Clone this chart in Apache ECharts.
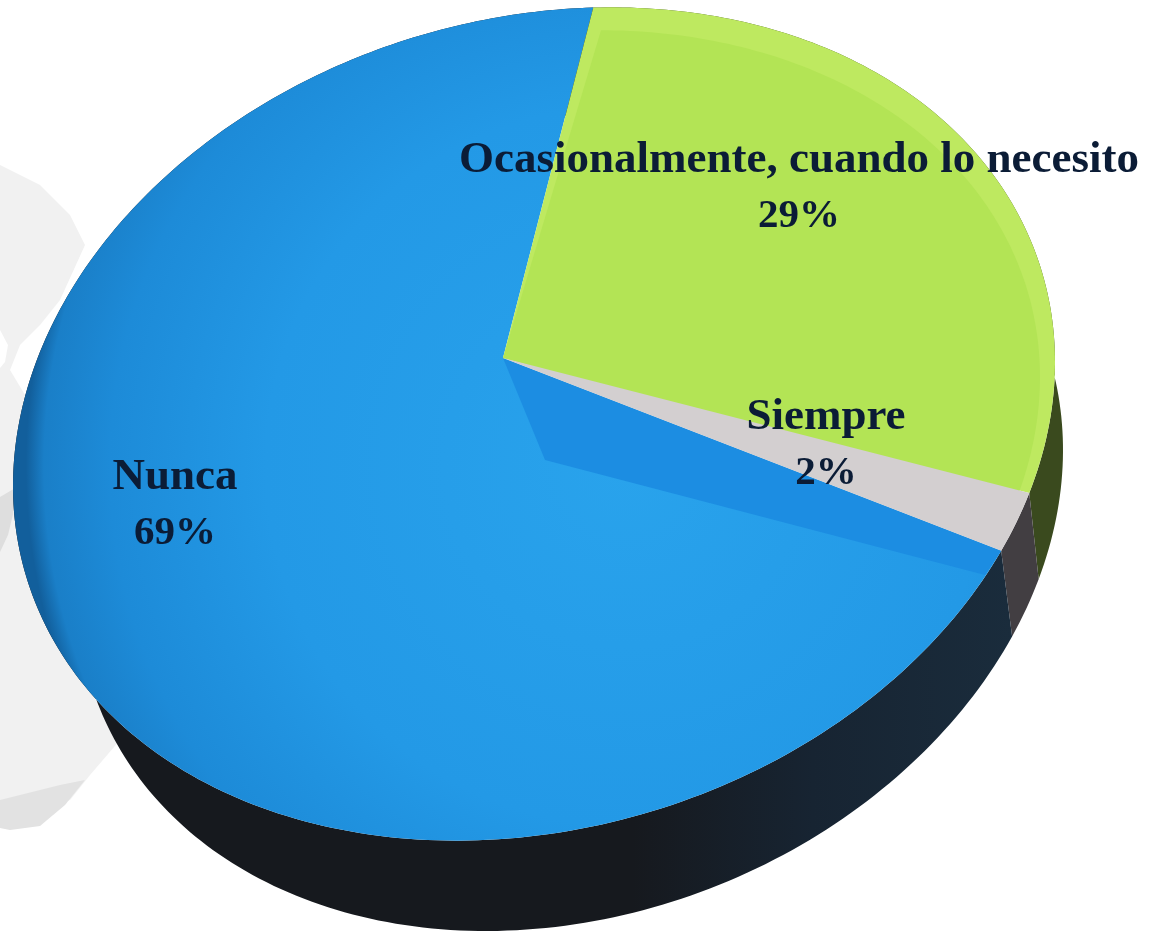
<!DOCTYPE html>
<html><head><meta charset="utf-8">
<style>html,body{margin:0;padding:0;background:#fff}#c{width:1163px;height:932px}</style>
<script src="https://cdn.jsdelivr.net/npm/echarts@6/dist/echarts.min.js"></script>
</head><body><div id="c"></div>
<script>
// Data
var categories = ['Ocasionalmente, cuando lo necesito', 'Siempre', 'Nunca'];
var values = [29, 2, 69];
var topColors = ['#bee960', '#d3cfd0', '#1c8ddf'];
var innerColors = ['#b3e455', '#d3cfd0', '#27a0ea'];
var wallColors = ['#3a4a1e', '#423e42', '#16191e'];
// Presentation geometry of the tilted disc
var START = 0.2, APEX = [503, 358];
var TOP = {cx: 534, cy: 424, rx: 521, c: -62, d: 412};
var INNER = {cx: 530, cy: 432, rx: 510, c: -55, d: 398};
var BOTTOM = {cx: 570, cy: 520, rx: 493, c: -70, d: 405};
var INNER_APEX = [545, 460];
var LABEL_POS = [[799, 188], [826, 445], [175, 505]];

function inv(E, p) {
  var x = (p[0] - E.cx) / E.rx;
  return [x, (p[1] - E.cy - E.c * x) / E.d];
}
var A = inv(TOP, APEX), AA = A[0]*A[0] + A[1]*A[1], S = Math.sqrt(1 - AA);
function warp(th) {
  var p = [Math.sin(th), -Math.cos(th)], dt = p[0]*A[0] + p[1]*A[1], k = dt / AA;
  var par = [k*A[0], k*A[1]], perp = [p[0]-par[0], p[1]-par[1]], den = 1 + dt;
  return [(A[0]+par[0]+S*perp[0])/den, (A[1]+par[1]+S*perp[1])/den];
}
function onE(E, th) {
  var q = warp(th);
  return [E.cx + E.rx*q[0], E.cy + E.c*q[0] + E.d*q[1]];
}
var total = values.reduce(function (a, b) { return a + b; }, 0);
var angles = [], acc = START;
values.forEach(function (v) {
  var a0 = acc; acc += v / total * Math.PI * 2; angles.push([a0, acc]);
});
function arc(E, a0, a1) {
  var out = [], n = Math.max(6, Math.ceil((a1 - a0) * 60));
  for (var i = 0; i <= n; i++) out.push(onE(E, a0 + (a1 - a0) * i / n));
  return out;
}
function blueFill() {
  return {type: 'radial', x: 0.62, y: 0.55, r: 0.72, colorStops: [
    {offset: 0, color: '#29a3ec'}, {offset: 0.6, color: '#2399e6'},
    {offset: 0.86, color: '#1d8bd8'}, {offset: 0.97, color: '#1a7fc8'}, {offset: 1, color: '#125f9c'}]};
}
function wall(params, api) {
  var i = params.dataIndex, a = angles[i];
  var pts = arc(TOP, a[0], a[1]).concat(arc(BOTTOM, a[0], a[1]).reverse());
  var fill = i === 2 ? {type: 'linear', x: 0, y: 0, x2: 1, y2: 0, colorStops: [
    {offset: 0, color: '#16191e'}, {offset: 0.62, color: '#16191e'}, {offset: 0.8, color: '#172432'}, {offset: 1, color: '#1a2c3c'}]} : wallColors[i];
  return {type: 'polygon', shape: {points: pts}, style: {fill: fill}};
}
function face(params, api) {
  var i = params.dataIndex, a = angles[i];
  var kids = [{type: 'polygon', shape: {points: [APEX].concat(arc(TOP, a[0], a[1]))},
    style: {fill: i === 2 ? blueFill() : topColors[i]}}];
  if (i === 2) {
    kids.push({type: 'polygon', shape: {points: [APEX, onE(TOP, a[0]), [985, 575], INNER_APEX]},
      style: {fill: '#1c8de2'}});
  }
  if (i === 0) {
    kids.push({type: 'polygon', shape: {points: [APEX].concat(arc(INNER, a[0] + 0.03, a[1]))},
      style: {fill: innerColors[i]}});
  }
  return {type: 'group', children: kids};
}
function label(params, api) {
  var i = params.dataIndex, p = LABEL_POS[i];
  return {type: 'text', x: p[0], y: p[1], style: {
    text: '{n|' + categories[i] + '}\n{v|' + Math.round(api.value(0)) + '%}',
    rich: {
      n: {font: 'bold 45px "Liberation Serif"', lineHeight: 56, fill: '#0b1c36', align: 'center'},
      v: {font: 'bold 41px "Liberation Serif"', lineHeight: 56, fill: '#0b1c36', align: 'center'}
    },
    align: 'center', verticalAlign: 'middle',
    shadowBlur: 3, shadowColor: 'rgba(10,25,50,0.6)'}};
}
var seriesData = values.map(function (v, i) { return {name: categories[i], value: v}; });
var blob = [
  {pts: [[0,165],[40,185],[70,215],[85,245],[60,300],[40,325],[20,345],[10,370],[40,420],[80,500],[120,740],[90,775],[70,800],[40,812],[0,815]], fill: '#f1f1f1'},
  {pts: [[0,800],[60,785],[85,780],[65,805],[40,826],[10,830],[0,828]], fill: '#e2e2e2'},
  {pts: [[0,497],[17,487],[14,510],[8,535],[0,552]], fill: '#dedede'},
  {pts: [[0,330],[8,345],[5,362],[0,368]], fill: '#ffffff'}
];
var chart = echarts.init(document.getElementById('c'), null, {renderer: 'canvas'});
chart.setOption({
  animation: false,
  backgroundColor: '#fff',
  graphic: blob.map(function (b) {
    return {type: 'polygon', z: -5, shape: {points: b.pts}, style: {fill: b.fill}};
  }),
  series: [
    {type: 'custom', coordinateSystem: 'none', z: 1, data: seriesData, renderItem: wall, silent: true},
    {type: 'custom', coordinateSystem: 'none', z: 2, data: [seriesData[2], seriesData[0], seriesData[1]],
      renderItem: function (p, api) { return face({dataIndex: [2, 0, 1][p.dataIndex]}, api); }, silent: true},
    {type: 'custom', coordinateSystem: 'none', z: 3, data: seriesData, renderItem: label, silent: true}
  ]
});
</script></body></html>
